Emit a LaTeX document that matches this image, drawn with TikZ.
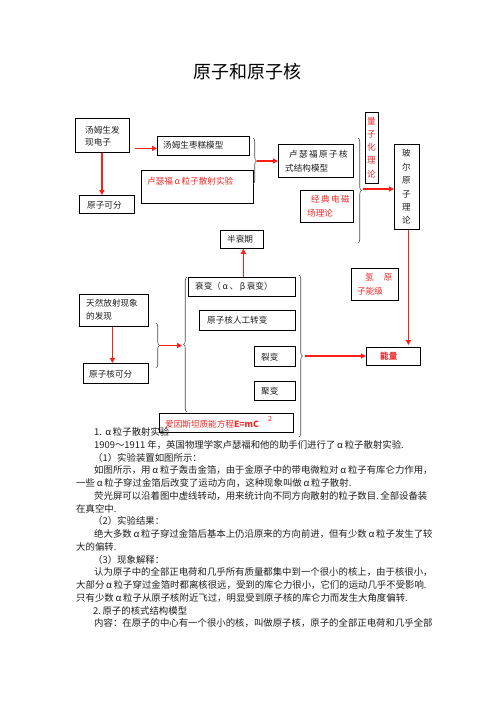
\documentclass[tikz,border=0pt]{standalone}
\usepackage{fontspec}
\setmainfont{Noto Sans CJK SC}
\usetikzlibrary{arrows.meta,decorations.pathreplacing}
\definecolor{arrred}{RGB}{255,30,20}
\definecolor{txtred}{RGB}{240,40,40}
\definecolor{bodytxt}{RGB}{30,30,30}
\newcommand\fw[1]{\makebox[1em]{#1}}
\begin{document}
\begin{tikzpicture}[x=1pt,y=-1pt,
  box/.style={draw=black,line width=0.8pt,inner sep=0pt,anchor=north west},
  bt/.style={anchor=west,inner sep=0pt,font=\fontsize{8.6}{11}\selectfont,text=bodytxt},
  rt/.style={bt,text=txtred},
  vt/.style={inner sep=0pt,align=center,font=\fontsize{8.6}{13.2}\selectfont},
  body/.style={anchor=west,inner sep=0pt,font=\fontsize{9.4}{12}\selectfont,text=bodytxt},
  arr/.style={draw=arrred,line width=1.6pt,-{Triangle[length=5pt,width=5pt]}},
  brc/.style={draw=black!70,line width=0.6pt,decorate,decoration={brace,amplitude=3.5pt}},
]
\path[use as bounding box,fill=white] (0,0) rectangle (496,702);

% title
\node[inner sep=0pt,font=\fontsize{18}{20}\selectfont] (title) at (247,72) {原子和原子核};

% boxes
\node[box,minimum width=54pt,minimum height=34pt] (tom) at (75,118) {};
\node[box,minimum width=92pt,minimum height=19pt] (model) at (157,136) {};
\node[box,minimum width=112pt,minimum height=33pt] (rexp) at (141,170) {};
\node[box,minimum width=55pt,minimum height=18pt] (adiv) at (79,195) {};
\node[box,minimum width=75pt,minimum height=33pt] (nuc) at (278,144) {};
\node[box,minimum width=13pt,minimum height=71pt] (quant) at (365,112) {};
\node[box,minimum width=53pt,minimum height=32pt] (clas) at (300,190) {};
\node[box,minimum width=25pt,minimum height=85pt] (bohr) at (394,144) {};
\node[box,minimum width=43pt,minimum height=18pt] (half) at (220,230) {};
\node[box,minimum width=107pt,minimum height=19pt] (decay) at (188,277) {};
\node[box,minimum width=96pt,minimum height=20pt] (artif) at (199,310) {};
\node[box,minimum width=41pt,minimum height=20pt] (fiss) at (254,346) {};
\node[box,minimum width=41pt,minimum height=19pt] (fus) at (254,381) {};
\node[box,minimum width=134pt,minimum height=19pt] (ein) at (159,413) {};
\node[box,minimum width=69pt,minimum height=32pt] (nat) at (79,294) {};
\node[box,minimum width=65pt,minimum height=20pt] (ndiv) at (83,363) {};
\node[box,minimum width=47pt,minimum height=32pt] (hyd) at (351,268) {};
\node[box,minimum width=54pt,minimum height=18pt] (en) at (366,347) {};

% box texts
\node[bt] (t1a) at (85,130) {汤姆生发};
\node[bt] (t1b) at (85,142) {现电子};
\node[bt] (t2) at (163,145.5) {汤姆生枣糕模型};
\node[rt] (t3) at (147,181) {卢瑟福\fw{α}粒子散射实验};
\node[bt] (t4) at (87,205) {原子可分};
\node[bt] (t5a) at (289,154) {卢\hspace{1.4pt}瑟\hspace{1.4pt}福\hspace{1.4pt}原\hspace{1.4pt}子\hspace{1.4pt}核};
\node[bt] (t5b) at (285,168) {式结构模型};
\node[vt,text=txtred] (t6) at (371.5,147.5) {量\\子\\化\\理\\论};
\node[rt] (t7a) at (311,199) {经\hspace{1.4pt}典\hspace{1.4pt}电\hspace{1.4pt}磁};
\node[rt] (t7b) at (307,213) {场理论};
\node[vt,text=bodytxt,font=\fontsize{8.6}{13.4}\selectfont] (t8) at (406.5,187) {玻\\尔\\原\\子\\理\\论};
\node[bt] (t9) at (227,239) {半衰期};
\node[bt] (t10) at (195,287) {衰变（\fw{α}、\fw{β}衰变）};
\node[bt] (t11) at (207,320) {原子核人工转变};
\node[bt] (t12) at (261,357) {裂变};
\node[bt] (t13) at (261,391) {聚变};
\node[rt] (t14) at (165,424) {爱因斯坦质能方程\textbf{E=mC}};
\node[rt,font=\fontsize{7}{8}\selectfont] (t14s) at (268,419) {2};
\node[bt] (t15a) at (86,303) {天然放射现象};
\node[bt] (t15b) at (86,316) {的发现};
\node[bt] (t16) at (89,374) {原子核可分};
\node[rt] (t17a) at (365,277) {氢\hspace{10pt}原};
\node[rt] (t17b) at (357,291) {子能级};
\node[rt,font=\fontsize{8.6}{11}\selectfont\bfseries] (t18) at (380,356.5) {能量};

% braces
\draw[brc] (253,138) -- (253,184);
\coordinate (b1) at (257,161);
\draw[brc] (358,138) -- (358,243);
\coordinate (b2) at (363,189);
\draw[brc] (156,323) -- (156,368);
\coordinate (b3) at (160,345.5);
\draw[brc] (187,412) -- (187,277);
\coordinate (b4) at (182,345.5);
\draw[brc] (299,275) -- (299,437);
\coordinate (b5) at (305,356);

% arrows
\draw[arr] ([xshift=5pt,yshift=-2.5pt]tom.east |- model.west) -- ([yshift=-2.5pt]model.west);
\draw[arr] ([xshift=-0.5pt]tom.south) -- ([xshift=-0.5pt]tom.south |- adiv.north);
\draw[arr] (b1) -- (nuc.west |- b1);
\draw[arr] (b2) -- (bohr.west |- b2);
\draw[arr] ([xshift=1.5pt]bohr.south) -- ([xshift=1.5pt,yshift=2pt]bohr.south |- en.north);
\draw[arr] ([xshift=-1.5pt]nat.south) -- ([xshift=-1.5pt]nat.south |- ndiv.north);
\draw[arr] (b3) -- (b4);
\draw[arr] (b5) -- (en.west |- b5);
\draw[arr] ([xshift=1.5pt]decay.north) -- ([xshift=1.5pt]half.south);

% body text
\node[body] (l0) at (94,432) {1.\,\fw{α}粒子散射实验};
\node[body] (l1) at (94,444.75) {1909～1911 年，英国物理学家卢瑟福和他的助手们进行了\fw{α}粒子散射实验.};
\node[body] (l2) at (93,457.5) {（1）实验装置如图所示：};
\node[body] (l3) at (94,470.25) {如图所示，用\fw{α}粒子轰击金箔，由于金原子中的带电微粒对\fw{α}粒子有库仑力作用，};
\node[body] (l4) at (76,483) {一些\fw{α}粒子穿过金箔后改变了运动方向，这种现象叫做\fw{α}粒子散射.};
\node[body] (l5) at (94,495.75) {荧光屏可以沿着图中虚线转动，用来统计向不同方向散射的粒子数目.\,全部设备装};
\node[body] (l6) at (76,508.5) {在真空中.};
\node[body] (l7) at (93,521.25) {（2）实验结果：};
\node[body] (l8) at (94,534) {绝大多数\fw{α}粒子穿过金箔后基本上仍沿原来的方向前进，但有少数\fw{α}粒子发生了较};
\node[body] (l9) at (76,546.75) {大的偏转.};
\node[body] (l10) at (93,559.5) {（3）现象解释：};
\node[body] (l11) at (94,572.25) {认为原子中的全部正电荷和几乎所有质量都集中到一个很小的核上，由于核很小，};
\node[body] (l12) at (76,585) {大部分\fw{α}粒子穿过金箔时都离核很远，受到的库仑力很小，它们的运动几乎不受影响.};
\node[body] (l13) at (76,597.75) {只有少数\fw{α}粒子从原子核附近飞过，明显受到原子核的库仑力而发生大角度偏转.};
\node[body] (l14) at (93,610.5) {2.\,原子的核式结构模型};
\node[body] (l15) at (94,623.25) {内容：在原子的中心有一个很小的核，叫做原子核，原子的全部正电荷和几乎全部};
\end{tikzpicture}
\end{document}
